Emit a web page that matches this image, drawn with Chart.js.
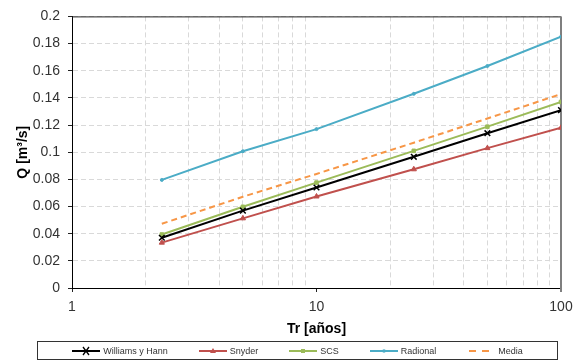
<!DOCTYPE html>
<html>
<head>
<meta charset="utf-8">
<script src="https://cdn.jsdelivr.net/npm/chart.js@4/dist/chart.umd.min.js"></script>
<style>
  html, body { margin: 0; padding: 0; background: #fff; }
  #wrap { position: relative; width: 580px; height: 362px; }
  #legend {
    position: absolute; left: 37px; top: 341px; width: 519px; height: 17px;
    border: 1px solid #333; display: flex; align-items: center; justify-content: center;
    gap: 31px; font: 9px "Liberation Sans", Arial, sans-serif; color: #333;
  }
  #legend span.item { display: flex; align-items: center; gap: 3px; }
</style>
</head>
<body>
<div id="wrap">
  <canvas id="myChart" width="580" height="362"></canvas>
  <div id="legend"></div>
</div>
<script>
  // periodos de retorno (años) y caudales (m3/s)
  let trData = [2.33, 5, 10, 25, 50, 100]
  let williamsData = [0.037, 0.057, 0.074, 0.0966, 0.114, 0.131]
  let snyderData = [0.0334, 0.0513, 0.0674, 0.0874, 0.103, 0.118]
  let scsData = [0.0394, 0.0598, 0.0776, 0.101, 0.1188, 0.137]
  let racionalData = [0.0796, 0.1007, 0.117, 0.143, 0.1635, 0.185]
  let mediaData = [0.0473, 0.0672, 0.084, 0.107, 0.1248, 0.1428]

  let xTicks = [1, 2, 3, 4, 5, 6, 7, 8, 9, 10, 20, 30, 40, 50, 60, 70, 80, 90, 100]
  let xLabels = [1, 10, 100]

  const series = [
    { label: 'Williams y Hann', color: '#000000', data: williamsData, point: 'crossRot', radius: 4 },
    { label: 'Snyder', color: '#c0504d', data: snyderData, point: 'triangle', radius: 3 },
    { label: 'SCS', color: '#9bbb59', data: scsData, point: 'rect', radius: 2.5 },
    { label: 'Radional', color: '#4bacc6', data: racionalData, point: 'circle', radius: 1.5 },
    { label: 'Media', color: '#f79646', data: mediaData, point: false, radius: 0, dash: [6, 4] }
  ]

  const font = '"Liberation Sans", Arial, sans-serif'
  const gridGray = '#d9d9d9'

  // marco superior negro y borde derecho gris
  const frame = {
    id: 'frame',
    beforeDatasetsDraw(chart) {
      const { ctx, chartArea: a } = chart
      ctx.save()
      ctx.lineWidth = 1
      ctx.strokeStyle = '#222'
      ctx.beginPath()
      ctx.moveTo(a.left, a.top + 0.5)
      ctx.lineTo(a.right, a.top + 0.5)
      ctx.stroke()
      ctx.lineWidth = 2
      ctx.strokeStyle = '#7f7f7f'
      ctx.beginPath()
      ctx.moveTo(a.right, a.top)
      ctx.lineTo(a.right, a.bottom + 4)
      ctx.stroke()
      ctx.restore()
    }
  }

  let ctx = document.getElementById('myChart')

  new Chart(ctx, {
    type: 'line',
    data: {
      datasets: series.map((s) => ({
        label: s.label,
        data: s.data.map((y, i) => ({ x: trData[i], y: y })),
        borderColor: s.color,
        backgroundColor: s.color,
        borderWidth: 2,
        borderDash: s.dash || [],
        pointStyle: s.point,
        pointRadius: s.radius,
        pointBorderWidth: s.point === 'crossRot' ? 1.5 : 1,
        tension: 0
      }))
    },
    options: {
      responsive: false,
      animation: false,
      layout: { padding: { left: 0, top: 14, right: 19, bottom: 0 } },
      plugins: { legend: { display: false }, tooltip: { enabled: false } },
      scales: {
        x: {
          type: 'logarithmic',
          min: 1,
          max: 100,
          afterBuildTicks: (scale) => {
            scale.ticks = xTicks.map((v) => ({ value: v, major: xLabels.includes(v) }))
          },
          afterFit: (scale) => { scale.height = 74 },
          ticks: {
            autoSkip: false,
            maxRotation: 0,
            padding: 7,
            color: '#333',
            font: { family: font, size: 14 },
            callback: (v) => xLabels.includes(v) ? String(v) : ''
          },
          grid: {
            tickLength: 4,
            color: (c) => (c.tick && c.tick.value === 10) ? 'transparent' : gridGray,
            tickColor: (c) => (c.tick && xLabels.includes(c.tick.value)) ? '#222' : 'transparent'
          },
          border: { color: '#000', width: 1, dash: [5, 3] },
          title: {
            display: true,
            text: 'Tr [años]',
            color: '#000',
            font: { family: font, size: 14, weight: 'bold' },
            padding: { top: 0, bottom: 24 }
          }
        },
        y: {
          min: 0,
          max: 0.2,
          afterFit: (scale) => { scale.width = 72 },
          ticks: {
            stepSize: 0.02,
            padding: 8,
            color: '#333',
            font: { family: font, size: 14 },
            callback: (v) => String(+v.toFixed(2))
          },
          grid: { tickLength: 4, color: gridGray, tickColor: '#222' },
          border: { color: '#000', width: 1, dash: [5, 3] },
          title: {
            display: true,
            text: 'Q [m³/s]',
            color: '#000',
            font: { family: font, size: 14, weight: 'bold' },
            padding: { top: 15, bottom: 0 }
          }
        }
      }
    },
    plugins: [frame]
  })

  // leyenda con muestra de línea y marcador
  function swatch(s) {
    let w = 28, h = 10, c = s.color, m = ''
    let line = s.dash
      ? `<line x1="2" y1="5" x2="${w}" y2="5" stroke="${c}" stroke-width="2" stroke-dasharray="7,6"/>`
      : `<line x1="0" y1="5" x2="${w}" y2="5" stroke="${c}" stroke-width="2"/>`
    if (s.point === 'crossRot') m = `<path d="M11 1 L17 9 M17 1 L11 9" stroke="${c}" stroke-width="1.3"/>`
    if (s.point === 'triangle') m = `<path d="M14 2 L17 7 L11 7 Z" fill="${c}"/>`
    if (s.point === 'rect') m = `<rect x="12" y="3" width="4" height="4" fill="${c}"/>`
    if (s.point === 'circle') m = `<circle cx="14" cy="5" r="1.8" fill="${c}"/>`
    return `<svg width="${w}" height="${h}">${line}${m}</svg>`
  }

  document.getElementById('legend').innerHTML = series
    .map((s) => `<span class="item">${swatch(s)}<span>${s.label}</span></span>`)
    .join('')
</script>
</body>
</html>
